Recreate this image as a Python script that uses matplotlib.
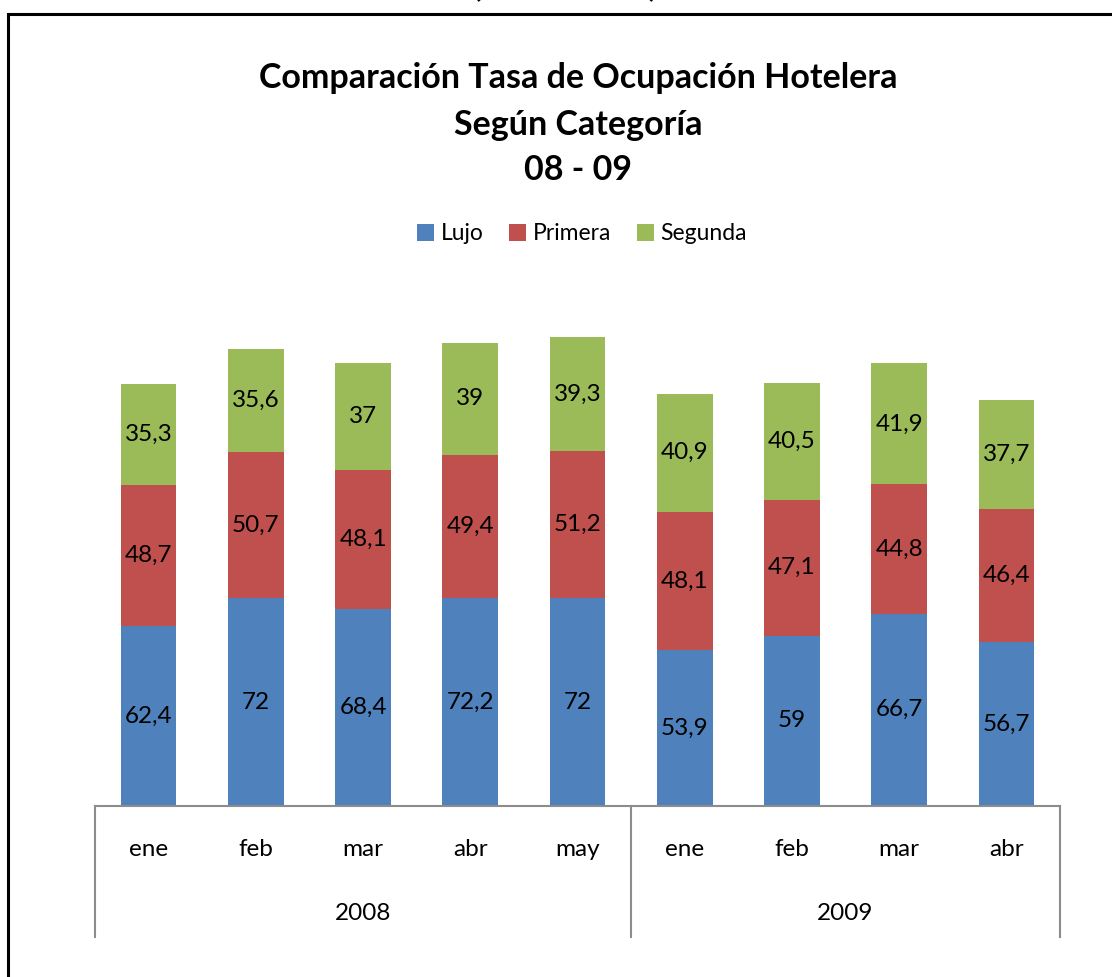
import matplotlib
matplotlib.use("Agg")
import matplotlib.pyplot as plt
from matplotlib.patches import Rectangle
import matplotlib.transforms as mtransforms

plt.rcParams['font.family'] = ['Lato', 'DejaVu Sans']

months = ["ene", "feb", "mar", "abr", "may", "ene", "feb", "mar", "abr"]
years = ["2008", "2009"]
year_counts = [5, 4]
series_names = ["Lujo", "Primera", "Segunda"]
lujo = [62.4, 72, 68.4, 72.2, 72, 53.9, 59, 66.7, 56.7]
primera = [48.7, 50.7, 48.1, 49.4, 51.2, 48.1, 47.1, 44.8, 46.4]
segunda = [35.3, 35.6, 37, 39, 39.3, 40.9, 40.5, 41.9, 37.7]
colors = ["#4F81BD", "#C0504D", "#9BBB59"]

W, H = 1112, 977
fig = plt.figure(figsize=(W / 100, H / 100), dpi=100)

# axes placement in pixels
x0, x1 = 95, 1060
ybase = 806
ymax = 180
pxu = 2.885
ytop = ybase - ymax * pxu
ax = fig.add_axes([x0 / W, 1 - ybase / H, (x1 - x0) / W, (ybase - ytop) / H])
axh = ybase - ytop

FS = 17.5

xs = list(range(len(months)))
bottoms = [0] * len(months)
for name, vals, c in zip(series_names, [lujo, primera, segunda], colors):
    ax.bar(xs, vals, width=0.52, bottom=bottoms, color=c, label=name, zorder=2)
    for xi, v, b in zip(xs, vals, bottoms):
        ax.text(xi, b + v / 2, f"{v:g}".replace(".", ","), ha="center", va="center",
                fontsize=FS, color="black", zorder=3)
    bottoms = [b + v for b, v in zip(bottoms, vals)]

ax.set_xlim(-0.5, len(months) - 0.5)
ax.set_ylim(0, ymax)
ax.set_xticks([])
ax.set_yticks([])
for s in ["left", "right", "top"]:
    ax.spines[s].set_visible(False)
ax.spines["bottom"].set_color("#8C8C8C")
ax.spines["bottom"].set_linewidth(1.5)

trans = mtransforms.blended_transform_factory(ax.transData, ax.transAxes)
ylow = -(937 - ybase) / axh
# separators
seps = [-0.5]
acc = -0.5
for n in year_counts:
    acc += n
    seps.append(acc)
for sx in seps:
    ax.plot([sx, sx], [0, ylow], transform=trans, color="#8C8C8C", lw=1.5, clip_on=False)

ymonth = -(850 - ybase) / axh
for xi, m in zip(xs, months):
    ax.text(xi, ymonth, m, transform=trans, ha="center", va="center", fontsize=FS)

yyear = -(913 - ybase) / axh
start = 0
for y, n in zip(years, year_counts):
    ax.text(start + (n - 1) / 2, yyear, y, transform=trans, ha="center", va="center", fontsize=FS)
    start += n

# titles
TS = 24.5
fig.text(578 / W, 1 - 78 / H, "Comparación Tasa de Ocupación Hotelera", ha="center", va="center",
         fontsize=TS, fontweight="bold")
fig.text(578 / W, 1 - 125 / H, "Según Categoría", ha="center", va="center",
         fontsize=TS, fontweight="bold")
fig.text(578 / W, 1 - 170 / H, "08 - 09", ha="center", va="center",
         fontsize=TS, fontweight="bold")

# cut-off top text (partially outside, as in the reference)
fig.text(565 / W, 1 + 13 / H, "(2008 - 2009)", ha="center", va="center", fontsize=22, fontweight="bold")

fig.legend(loc="center", bbox_to_anchor=(582 / W, 1 - 234 / H), ncol=3, frameon=False,
           fontsize=16.5, handlelength=0.75, handleheight=0.75, handletextpad=0.3,
           columnspacing=1.1)

# border
fig.patches.append(Rectangle((8 / W, -0.1), 1.2, 1 - 14 / H + 0.1, transform=fig.transFigure,
                             fill=False, edgecolor="black", lw=2.2))

fig.savefig("out.png", dpi=100)
